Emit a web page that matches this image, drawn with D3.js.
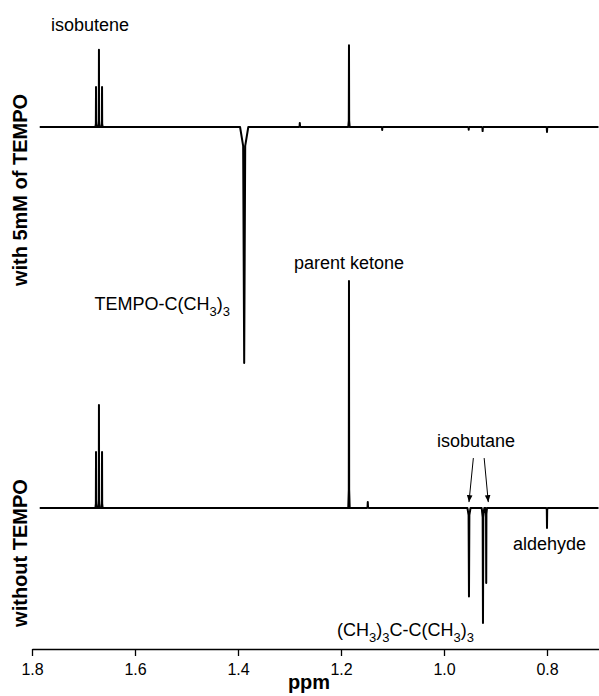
<!DOCTYPE html>
<html>
<head>
<meta charset="utf-8">
<script src="https://cdn.jsdelivr.net/npm/d3@7"></script>
<style>
  body { margin: 0; background: #fff; }
  svg { display: block; font-family: "Liberation Sans", Arial, sans-serif; }
  .axis text { font-size: 16px; fill: #000; }
  .axis path, .axis line { stroke: #000; stroke-width: 1.3; }
  .spec { fill: none; stroke: #000; stroke-width: 2; stroke-linejoin: round; }
  .note { font-size: 18px; fill: #000; }
  .side { font-size: 20px; font-weight: bold; fill: #000; }
</style>
</head>
<body>
<div id="chart"></div>
<script>
// tick labels on the ppm axis
var tickValues = [1.8, 1.6, 1.4, 1.2, 1.0, 0.8];

// peak positions (ppm) and intensities (parent ketone, bottom trace = 100)
var topPpm = [1.6757, 1.670, 1.664, 1.388, 1.280, 1.1845, 1.120, 0.952, 0.925, 0.800];
var topInt = [17.6, 34, 17.6, -104, 1.8, 36, -1.3, -1.2, -1.8, -2.2];
var topWidth = [0.0012, 0.0012, 0.0012, 0.008, 0.002, 0.0014, 0.002, 0.002, 0.002, 0.002];

var bottomPpm = [1.6757, 1.670, 1.664, 1.1845, 1.148, 0.9515, 0.9243, 0.918, 0.800];
var bottomInt = [24.7, 45.4, 24.7, 100, 2.6, -39, -50.7, -33, -8.8];
var bottomWidth = [0.0012, 0.0012, 0.0012, 0.0014, 0.002, 0.003, 0.0025, 0.0015, 0.0015];

var width = 599, height = 696;

var svg = d3.select("#chart").append("svg")
            .attr("width", width)
            .attr("height", height);

var x = d3.scaleLinear()
          .domain([1.8, 0.7])
          .range([32, 598.5]);

// intensity -> pixel position around each trace's baseline
var yTop = d3.scaleLinear().domain([0, 100]).range([127, -100]);
var yBot = d3.scaleLinear().domain([0, 100]).range([508, 281]);

function buildPoints(ppm, inten, w) {
  var pts = [[1.785, 0]];
  d3.range(ppm.length).forEach(i => {
    var p = ppm[i], h = inten[i], hw = w[i];
    pts.push([p + hw, 0]);
    pts.push([p + hw * 0.25, h * 0.08]);
    pts.push([p, h]);
    pts.push([p - hw * 0.25, h * 0.08]);
    pts.push([p - hw, 0]);
  });
  pts.push([0.7, 0]);
  return pts;
}

var lineTop = d3.line().x(d => x(d[0])).y(d => yTop(d[1]));
var lineBot = d3.line().x(d => x(d[0])).y(d => yBot(d[1]));

svg.append("path")
   .attr("class", "spec")
   .attr("d", lineTop(buildPoints(topPpm, topInt, topWidth)));

svg.append("path")
   .attr("class", "spec")
   .attr("d", lineBot(buildPoints(bottomPpm, bottomInt, bottomWidth)));

// axis
var axis = d3.axisBottom(x)
             .tickValues(tickValues)
             .tickSize(7)
             .tickSizeOuter(0)
             .tickPadding(8)
             .tickFormat(d3.format(".1f"));

svg.append("g")
   .attr("class", "axis")
   .attr("transform", "translate(0,649)")
   .call(axis);

svg.append("text")
   .attr("x", 309)
   .attr("y", 689)
   .attr("text-anchor", "middle")
   .style("font-size", "20px")
   .style("font-weight", "bold")
   .text("ppm");

// side labels
svg.append("text")
   .attr("class", "side")
   .attr("transform", "translate(27,190) rotate(-90)")
   .attr("text-anchor", "middle")
   .text("with 5mM of TEMPO");

svg.append("text")
   .attr("class", "side")
   .attr("transform", "translate(27,553) rotate(-90)")
   .attr("text-anchor", "middle")
   .text("without TEMPO");

// annotations
svg.append("text")
   .attr("class", "note")
   .attr("x", x(1.670) - 9)
   .attr("y", 31)
   .attr("text-anchor", "middle")
   .text("isobutene");

svg.append("text")
   .attr("class", "note")
   .attr("x", x(1.1845))
   .attr("y", yBot(100) - 12)
   .attr("text-anchor", "middle")
   .text("parent ketone");

function subLabel(px, py, parts, anchor) {
  var t = svg.append("text")
             .attr("class", "note")
             .attr("x", px)
             .attr("y", py)
             .attr("text-anchor", anchor);
  var lowered = false;
  parts.forEach(p => {
    if (p.sub) {
      t.append("tspan").attr("dy", lowered ? 0 : 6).style("font-size", "13px").text(p.s);
      lowered = true;
    } else {
      t.append("tspan").attr("dy", lowered ? -6 : 0).text(p.s);
      lowered = false;
    }
  });
  return t;
}

subLabel(230, 310, [
  { s: "TEMPO-C(CH" }, { s: "3", sub: true }, { s: ")" }, { s: "3", sub: true }
], "end");

subLabel(474, 636, [
  { s: "(CH" }, { s: "3", sub: true }, { s: ")" }, { s: "3", sub: true },
  { s: "C-C(CH" }, { s: "3", sub: true }, { s: ")" }, { s: "3", sub: true }
], "end");

svg.append("text")
   .attr("class", "note")
   .attr("x", 476)
   .attr("y", 447)
   .attr("text-anchor", "middle")
   .text("isobutane");

svg.append("text")
   .attr("class", "note")
   .attr("x", x(0.800) - 34)
   .attr("y", 550)
   .attr("text-anchor", "start")
   .text("aldehyde");

// arrows to isobutane peaks
svg.append("defs").append("marker")
   .attr("id", "arrow")
   .attr("viewBox", "0 0 10 10")
   .attr("refX", 10)
   .attr("refY", 5)
   .attr("markerWidth", 7)
   .attr("markerHeight", 7)
   .attr("markerUnits", "userSpaceOnUse")
   .attr("orient", "auto")
   .append("path")
   .attr("d", "M0,1L10,5L0,9z")
   .attr("fill", "#000");

var arrows = [[0.943, 0.9515], [0.922, 0.914]];
svg.selectAll(".arrow")
   .data(arrows)
   .enter().append("line")
   .attr("class", "arrow")
   .attr("x1", d => x(d[0]))
   .attr("y1", yBot(22))
   .attr("x2", d => x(d[1]))
   .attr("y2", yBot(2.6))
   .attr("stroke", "#000")
   .attr("stroke-width", 1)
   .attr("marker-end", "url(#arrow)");
</script>
</body>
</html>
